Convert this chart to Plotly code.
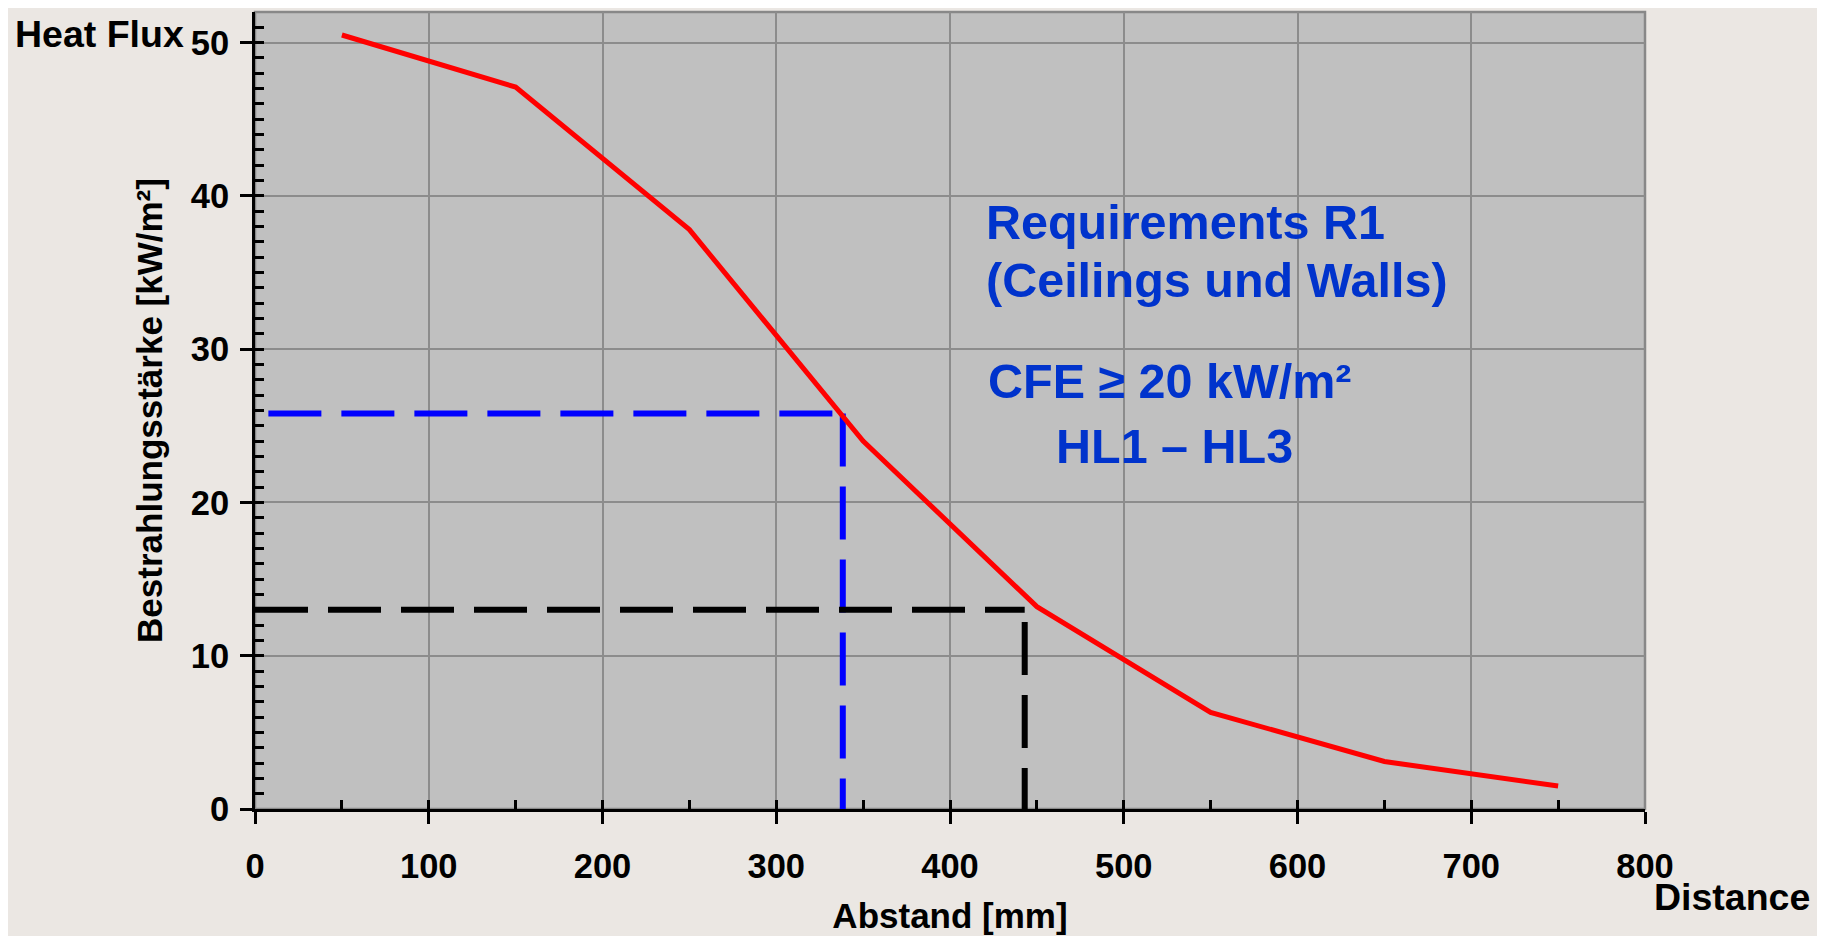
import plotly.graph_objects as go

# ---- data ----
distance_mm = [50, 150, 250, 350, 450, 550, 650, 750]
heat_flux_kw_m2 = [50.5, 47.1, 37.8, 24.0, 13.2, 6.3, 3.1, 1.5]

# reference (dashed) construction lines
blue_h_x = [7.7, 338.3]
blue_h_y = [25.8, 25.8]
blue_v_x = [338.3, 338.3]
blue_v_y = [25.8, 0]
black_h_x = [0, 443]
black_h_y = [13.0, 13.0]
black_v_x = [443, 443]
black_v_y = [12.2, 0]

x_ticks = [0, 100, 200, 300, 400, 500, 600, 700, 800]
y_ticks = [0, 10, 20, 30, 40, 50]
y_minor_ticks = list(range(0, 53))
x_inner_ticks = list(range(0, 801, 50))

FONT = "Liberation Sans, Arial, sans-serif"
PAPER = "#ebe7e3"
PLOT = "#c0c0c0"
GRID = "#8c8c8c"
TEXT_BLUE = "#0033cc"

fig = go.Figure()

dash = "53px,20px"
fig.add_trace(go.Scatter(x=blue_h_x, y=blue_h_y, mode="lines",
                         line=dict(color="#0000ff", width=6, dash=dash),
                         hoverinfo="skip", showlegend=False))
fig.add_trace(go.Scatter(x=blue_v_x, y=blue_v_y, mode="lines",
                         line=dict(color="#0000ff", width=6, dash=dash),
                         hoverinfo="skip", showlegend=False))
fig.add_trace(go.Scatter(x=black_h_x, y=black_h_y, mode="lines",
                         line=dict(color="#000000", width=6, dash=dash),
                         hoverinfo="skip", showlegend=False))
fig.add_trace(go.Scatter(x=black_v_x, y=black_v_y, mode="lines",
                         line=dict(color="#000000", width=6, dash=dash),
                         hoverinfo="skip", showlegend=False))
fig.add_trace(go.Scatter(x=distance_mm, y=heat_flux_kw_m2, mode="lines",
                         line=dict(color="#ff0000", width=5),
                         showlegend=False))
# invisible traces to bind the overlay axes that draw the inside ticks
fig.add_trace(go.Scatter(x=[], y=[], xaxis="x2", yaxis="y",
                         hoverinfo="skip", showlegend=False))
fig.add_trace(go.Scatter(x=[], y=[], xaxis="x", yaxis="y2",
                         hoverinfo="skip", showlegend=False))

tick_font = dict(family=FONT, size=34.5, color="black", weight="bold")
title_font = dict(family=FONT, size=35, color="black", weight="bold")

# the page body adds an 8 px offset; margins compensate for it
fig.update_layout(
    width=1825, height=936,
    paper_bgcolor=PAPER, plot_bgcolor=PLOT,
    margin=dict(l=247, r=188, t=4, b=135, autoexpand=False),
    xaxis=dict(
        range=[0, 800], tickvals=x_ticks, ticktext=[str(v) for v in x_ticks],
        showgrid=True, gridcolor=GRID, gridwidth=1.5, zeroline=False,
        showline=True, linecolor="black", linewidth=3,
        ticks="outside", ticklen=12, tickwidth=3, tickcolor="black",
        tickfont=tick_font, ticklabelstandoff=13,
        title=dict(text="Abstand [mm]", font=title_font, standoff=20),
        automargin=False,
    ),
    xaxis2=dict(
        overlaying="x", matches="x", range=[0, 800], side="bottom",
        tickmode="array", tickvals=x_inner_ticks, ticks="inside", ticklen=9,
        tickwidth=3, tickcolor="black", showticklabels=False, showgrid=False,
        zeroline=False, showline=False,
    ),
    yaxis=dict(
        range=[0, 52], tickvals=y_ticks, ticktext=[str(v) for v in y_ticks],
        showgrid=True, gridcolor=GRID, gridwidth=1.5, zeroline=False,
        showline=True, linecolor="black", linewidth=3,
        ticks="outside", ticklen=12, tickwidth=3, tickcolor="black",
        tickfont=tick_font, ticklabelstandoff=4,
        title=dict(text="Bestrahlungsstärke [kW/m²]", font=title_font, standoff=18),
        automargin=False,
    ),
    yaxis2=dict(
        overlaying="y", matches="y", range=[0, 52], side="left",
        tickmode="array", tickvals=y_minor_ticks, ticks="inside", ticklen=9,
        tickwidth=3, tickcolor="black", showticklabels=False, showgrid=False,
        zeroline=False, showline=False,
    ),
    shapes=[dict(type="rect", xref="paper", yref="paper", x0=0, x1=1, y0=0, y1=1,
                 line=dict(color="#888888", width=2.5), fillcolor="rgba(0,0,0,0)",
                 layer="below")],
)

blue_font = dict(family=FONT, size=48.5, color=TEXT_BLUE, weight="bold")
notes = [
    ("Requirements R1", 419.3, 38.3),
    ("(Ceilings und Walls)", 419.3, 34.5),
    ("CFE ≥ 20 kW/m²", 421.0, 27.9),
    ("HL1 – HL3", 460.0, 23.7),
]
for text, x, y in notes:
    fig.add_annotation(text=text, x=x, y=y, xref="x", yref="y",
                       xanchor="left", yanchor="middle", showarrow=False,
                       font=blue_font)

corner_font = dict(family=FONT, size=37.5, color="black", weight="bold")
fig.add_annotation(text="Heat Flux", xref="paper", yref="paper",
                   x=-0.174, y=0.9728, xanchor="left", yanchor="middle",
                   showarrow=False, font=corner_font)
fig.add_annotation(text="Distance", xref="paper", yref="paper",
                   x=1.005, y=-0.11, xanchor="left", yanchor="middle",
                   showarrow=False, font=corner_font)

fig.write_html("out.html")
